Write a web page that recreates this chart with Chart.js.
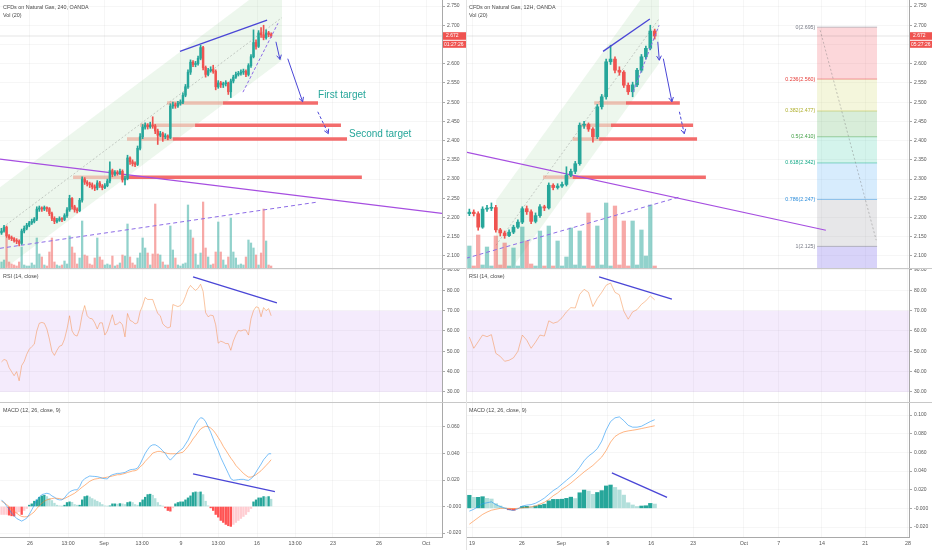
<!DOCTYPE html>
<html>
<head>
<meta charset="utf-8">
<script src="https://cdn.jsdelivr.net/npm/chart.js@4.4.1/dist/chart.umd.min.js"></script>
<style>
  html, body { margin: 0; padding: 0; background: #fff; }
  #wrap { position: relative; width: 932px; height: 550px; overflow: hidden; font-family: "Liberation Sans", Arial, sans-serif; }
  .pane { position: absolute; }
  .pane canvas { display: block; }
  .hline { position: absolute; left: 0; width: 932px; height: 1px; background: #c8c8c8; }
  .vline { position: absolute; top: 0; width: 1px; height: 550px; background: #e2e2e2; }
  .title { position: absolute; font-size: 5.4px; line-height: 6px; color: #4a4a4a; white-space: nowrap; }
</style>
</head>
<body>
<div id="wrap">
  <div class="pane" style="left:0;top:0;width:466px;height:268px"><canvas id="leftMain"></canvas></div>
  <div class="pane" style="left:0;top:269px;width:466px;height:133px"><canvas id="leftRsi"></canvas></div>
  <div class="pane" style="left:0;top:403px;width:466px;height:147px"><canvas id="leftMacd"></canvas></div>
  <div class="pane" style="left:466px;top:0;width:466px;height:268px"><canvas id="rightMain"></canvas></div>
  <div class="pane" style="left:466px;top:269px;width:466px;height:133px"><canvas id="rightRsi"></canvas></div>
  <div class="pane" style="left:466px;top:403px;width:466px;height:147px"><canvas id="rightMacd"></canvas></div>
  <div class="hline" style="top:268px"></div>
  <div class="hline" style="top:402px"></div>
  <div class="vline" style="left:466px"></div>

  <div class="title" style="left:3px;top:4px">CFDs on Natural Gas, 240, OANDA</div>
  <div class="title" style="left:3px;top:12px">Vol (20)</div>
  <div class="title" style="left:3px;top:273px">RSI (14, close)</div>
  <div class="title" style="left:3px;top:407px">MACD (12, 26, close, 9)</div>
  <div class="title" style="left:469px;top:4px">CFDs on Natural Gas, 12H, OANDA</div>
  <div class="title" style="left:469px;top:12px">Vol (20)</div>
  <div class="title" style="left:469px;top:273px">RSI (14, close)</div>
  <div class="title" style="left:469px;top:407px">MACD (12, 26, close, 9)</div>
</div>

<script>
// Gás natural — dois gráficos lado a lado (4H e 12H) com volume, RSI e MACD.

const UP = "#26a69a", DOWN = "#ef5350";
const UP_VOL = "rgba(38,166,154,0.5)", DOWN_VOL = "rgba(239,83,80,0.5)";
const TXT = "#555", AXIS = "#a9a9a9", GRID = "rgba(0,0,0,0.035)";
const BLUE = "#4a46d6", PURPLE = "#a64ee0", DASH_PURPLE = "#8c6be6";
const ZONE = "rgba(242,92,92,0.9)", ZONE_SOFT = "rgba(236,140,120,0.5)";
const TEAL = "#26a69a";
const RSI_COLOR = "rgba(245,140,70,0.5)";
const RSI_FILL = "rgba(150,60,230,0.1)";
const MACD_COLOR = "rgba(33,150,243,0.6)", SIGNAL_COLOR = "rgba(255,120,30,0.55)";

// ---- 4H (esquerda) ----
const leftFirstOpen = 2.160;
const leftClose = [
  2.165,2.175,2.152,2.148,2.145,2.140,2.138,2.133,2.165,2.172,
  2.180,2.186,2.190,2.196,2.222,2.225,2.222,2.226,2.223,2.210,
  2.198,2.190,2.193,2.197,2.195,2.205,2.220,2.250,2.228,2.220,
  2.218,2.245,2.300,2.292,2.288,2.285,2.280,2.277,2.290,2.282,
  2.278,2.283,2.295,2.322,2.312,2.318,2.315,2.320,2.298,2.302,
  2.355,2.345,2.340,2.338,2.380,2.410,2.435,2.440,2.436,2.440,
  2.438,2.425,2.414,2.418,2.410,2.412,2.408,2.490,2.493,2.490,
  2.497,2.500,2.518,2.540,2.578,2.604,2.598,2.600,2.614,2.642,
  2.590,2.572,2.582,2.585,2.580,2.540,2.550,2.545,2.548,2.550,
  2.527,2.555,2.565,2.572,2.575,2.578,2.580,2.572,2.595,2.618,
  2.655,2.645,2.680,2.675,2.668,2.680,2.676,2.672];
const leftHigh = [
  2.172,2.180,2.178,2.156,2.152,2.148,2.145,2.142,2.170,2.178,
  2.185,2.190,2.196,2.200,2.228,2.230,2.228,2.230,2.228,2.226,
  2.214,2.202,2.198,2.202,2.200,2.210,2.226,2.258,2.252,2.232,
  2.225,2.250,2.306,2.304,2.296,2.292,2.290,2.285,2.296,2.294,
  2.286,2.288,2.300,2.345,2.326,2.322,2.322,2.326,2.324,2.308,
  2.362,2.358,2.350,2.345,2.386,2.418,2.442,2.446,2.444,2.448,
  2.462,2.442,2.430,2.424,2.422,2.418,2.415,2.496,2.500,2.498,
  2.502,2.506,2.524,2.546,2.584,2.610,2.608,2.606,2.620,2.648,
  2.645,2.594,2.588,2.592,2.596,2.584,2.556,2.554,2.552,2.556,
  2.552,2.560,2.570,2.578,2.580,2.584,2.586,2.584,2.600,2.624,
  2.688,2.662,2.686,2.694,2.700,2.688,2.684,2.680];
const leftLow = [
  2.156,2.162,2.148,2.143,2.140,2.136,2.132,2.126,2.130,2.160,
  2.168,2.176,2.182,2.186,2.192,2.216,2.216,2.218,2.216,2.205,
  2.192,2.184,2.186,2.190,2.189,2.192,2.200,2.216,2.222,2.214,
  2.212,2.215,2.240,2.286,2.282,2.278,2.274,2.270,2.272,2.278,
  2.272,2.275,2.280,2.290,2.306,2.308,2.310,2.312,2.292,2.285,
  2.298,2.338,2.334,2.332,2.335,2.376,2.405,2.430,2.430,2.432,
  2.432,2.418,2.390,2.410,2.398,2.405,2.402,2.405,2.484,2.484,
  2.486,2.492,2.496,2.514,2.536,2.572,2.592,2.592,2.596,2.610,
  2.584,2.565,2.568,2.578,2.575,2.532,2.536,2.538,2.538,2.542,
  2.520,2.512,2.550,2.562,2.568,2.570,2.572,2.566,2.568,2.590,
  2.615,2.638,2.642,2.668,2.662,2.664,2.670,2.668];
const leftVolume = [
  6,8,30,6,4,3,2,6,21,3, 2,2,5,3,30,14,11,3,2,16,
  30,6,3,2,3,7,4,32,21,15, 4,10,47,13,12,4,3,10,30,11,
  8,3,4,3,12,2,3,5,13,12, 44,11,5,3,10,15,30,20,15,3,
  14,64,14,13,6,3,3,42,18,10, 3,2,4,5,63,38,30,14,3,15,
  66,20,11,3,4,16,46,16,8,3, 11,50,16,10,3,4,3,11,28,25,
  20,13,3,15,59,27,3,2];
const leftRsi = [
  44.8,46,45.5,42,40,38,40,35.5,43,45, 48.5,51,52.3,53.5,60,63.8,64.2,63.8,61,56,
  50,48,50.5,52.5,53,56,61,67.5,60,58, 57.5,61,68,72.5,67.5,66.2,66,64,61,64,
  64,58,60,64,68,63,63.5,64.5,63,57.1, 68.6,65.2,64.6,63.5,64,69.5,72.5,76.5,75.5,75.5,
  75.5,72,68.6,67.5,63.5,62.3,61.5,62,73,72.5, 72,72.5,74,77,80.5,82.4,81,80,81,83,
  79.5,69,67,67.8,67.5,63,54,55,54.5,53.8, 53.8,50.5,55,58,60.3,60,60.5,60.5,58,66,
  70,71.9,71.5,67,71.5,70,71,67.5];
const leftMacd = [
  0.005,0.003,0.0005,-0.002,-0.005,-0.007,-0.009,-0.010,-0.011,-0.010,
  -0.0088,-0.006,-0.0025,0.001,0.005,0.007,0.009,0.0095,0.010,0.0095,
  0.008,0.007,0.0055,0.005,0.005,0.0065,0.009,0.011,0.012,0.0126,
  0.0126,0.015,0.019,0.021,0.022,0.023,0.0228,0.0227,0.0225,0.022,
  0.0213,0.021,0.0208,0.023,0.024,0.0245,0.025,0.025,0.0254,0.0257,
  0.0268,0.0277,0.028,0.0282,0.029,0.032,0.036,0.040,0.043,0.0455,
  0.0465,0.0466,0.0455,0.044,0.042,0.040,0.037,0.035,0.037,0.039,
  0.041,0.0425,0.044,0.047,0.050,0.054,0.058,0.062,0.065,0.067,
  0.0665,0.064,0.060,0.056,0.051,0.046,0.042,0.037,0.033,0.029,
  0.025,0.021,0.0198,0.020,0.0203,0.0205,0.0205,0.020,0.0197,0.021,
  0.0227,0.026,0.029,0.032,0.0353,0.0375,0.0398,0.0398];
const leftSignal = [
  0.004,0.003,0.0015,0,-0.002,-0.0035,-0.005,-0.0065,-0.0075,-0.0078,
  -0.0077,-0.007,-0.0055,-0.004,-0.0015,0.0005,0.0025,0.004,0.005,0.0055,
  0.006,0.0063,0.0062,0.006,0.0055,0.006,0.007,0.008,0.009,0.010,
  0.0115,0.013,0.0146,0.016,0.0175,0.019,0.020,0.0207,0.021,0.0214,
  0.0216,0.0218,0.0222,0.0225,0.023,0.0235,0.024,0.024,0.0245,0.025,
  0.0257,0.0262,0.0268,0.027,0.0278,0.030,0.0315,0.034,0.036,0.038,
  0.0403,0.041,0.0416,0.0416,0.041,0.0405,0.040,0.0398,0.0398,0.0398,
  0.040,0.0405,0.041,0.043,0.0454,0.048,0.051,0.0534,0.056,0.0585,
  0.0597,0.0605,0.0603,0.0592,0.0575,0.055,0.052,0.049,0.0454,0.0425,
  0.0395,0.0365,0.034,0.031,0.029,0.027,0.025,0.0235,0.0222,0.0222,
  0.023,0.024,0.0255,0.027,0.029,0.031,0.033,0.0353];
const leftHist = [
  -0.006,-0.006,-0.006,-0.0065,-0.007,-0.0072,-0.005,-0.004,-0.006,-0.003,
  -0.0015,0.001,0.002,0.004,0.005,0.007,0.008,0.0085,0.0075,0.006,
  0.0045,0.0025,0.001,0.0005,0.0003,0.001,0.003,0.0035,0.0032,0.0015,
  0.001,0.001,0.005,0.0075,0.008,0.0072,0.006,0.005,0.004,0.003,
  0.0015,0.0005,0.0003,0.0005,0.002,0.002,0.0018,0.0022,0.002,0.0015,
  0.003,0.0035,0.003,0.0015,0.001,0.003,0.005,0.007,0.009,0.0093,
  0.0085,0.006,0.003,0.001,0.0003,-0.001,-0.003,-0.0035,-0.001,0.002,
  0.003,0.0035,0.0035,0.005,0.0065,0.008,0.0105,0.011,0.0108,0.011,
  0.009,0.004,0.0005,-0.001,-0.003,-0.006,-0.008,-0.0105,-0.012,-0.0135,
  -0.0145,-0.015,-0.0135,-0.012,-0.0105,-0.009,-0.0075,-0.006,-0.004,-0.0015,
  0.0035,0.005,0.0065,0.0065,0.0075,0.0072,0.0075,0.0055];
const leftTimePos = [11.3, 26.4, 40.7, 55.8, 71.2, 86, 101.4, 116.5, 131.5, 149.8, 168.5];
const leftTimeLabels = ["26", "13:00", "Sep", "13:00", "9", "13:00", "16", "13:00", "23", "26", "Oct"];

// desenhos do gráfico 4H (índice da vela, preço)
const leftChanUpper = [[-0.6, 2.279], [111.3, 2.830]];
const leftChanLower = [[-0.6, 2.058], [111.3, 2.609]];
const leftChanMid = [[-0.6, 2.169], [111.3, 2.720]];
const leftTrend = [[70.8, 2.632], [105.4, 2.713]];
const leftWedge = [[95.8, 2.526], [109.7, 2.705]];
const leftArrowShort = [[108.9, 2.657], [110.5, 2.611]];
const leftArrowLong = [[113.6, 2.613], [119.5, 2.501]];
const leftArrowDash = [[125.5, 2.475], [129.7, 2.418]];
const leftPurple = [[-0.6, 2.352], [174.8, 2.211]];
const leftSupport = [[-0.6, 2.120], [125.2, 2.240]];
const leftZonePrice = [2.498, 2.440, 2.404, 2.305];
const leftZoneFrom = [65.7, 55.0, 49.8, 28.4];
const leftZoneSplit = [87.9, 76.8, 68.0, 49.8];
const leftZoneTo = [125.6, 134.7, 137.1, 143.0];
const leftRsiTrend = [[76, 86.6], [109.3, 73.8]];
const leftMacdTrend = [[76, 0.0247], [108.5, 0.0113]];
const leftNotes = [
  { text: "First target", x: 125.6, y: 2.518, color: TEAL, size: 10 },
  { text: "Second target", x: 137.9, y: 2.417, color: TEAL, size: 10 },
];

// ---- 12H (direita) ----
const rightFirstOpen = 2.210;
const rightClose = [
  2.214,2.210,2.175,2.222,2.224,2.226,2.168,2.160,2.153,2.162,
  2.175,2.188,2.223,2.215,2.190,2.205,2.228,2.225,2.284,2.278,
  2.282,2.286,2.310,2.320,2.340,2.440,2.442,2.430,2.410,2.488,
  2.514,2.605,2.612,2.583,2.578,2.544,2.527,2.545,2.583,2.618,
  2.640,2.685,2.672];
const rightHigh = [
  2.222,2.220,2.215,2.228,2.232,2.238,2.232,2.172,2.165,2.168,
  2.180,2.194,2.228,2.230,2.220,2.212,2.234,2.232,2.290,2.288,
  2.288,2.292,2.332,2.326,2.346,2.446,2.450,2.446,2.434,2.494,
  2.520,2.612,2.648,2.618,2.592,2.582,2.550,2.552,2.588,2.624,
  2.646,2.700,2.690];
const rightLow = [
  2.205,2.204,2.167,2.172,2.216,2.218,2.162,2.152,2.146,2.150,
  2.158,2.172,2.184,2.208,2.184,2.186,2.200,2.218,2.222,2.272,
  2.274,2.278,2.282,2.306,2.314,2.336,2.432,2.424,2.396,2.405,
  2.482,2.508,2.598,2.576,2.570,2.538,2.520,2.514,2.540,2.578,
  2.612,2.636,2.664];
const rightVolume = [
  22,2,33,3,21,2,32,3,25,2, 20,2,41,27,4,2,37,2,42,2,
  27,2,11,40,3,37,2,55,2,42, 3,65,2,62,3,47,2,47,3,38,
  12,63,2];
const rightRsi = [
  57,51.5,54.7,58,57.2,58.2,49,47.5,45.1,45.6, 46.8,50,58,55.5,51.5,54.5,58,57.5,65,63.8,
  64.5,66.5,69.4,71.5,71.3,78,80.5,79,72,76, 79,82.5,83.6,79,77.8,69.8,65.8,69.4,70.5,73.1,
  74.8,77.3,75.3];
const rightMacd = [
  -0.003,-0.001,0.002,0.005,0.006,0.007,0.004,0.002,0.0003,-0.0015,
  -0.0023,-0.0005,0.0025,0.0035,0.004,0.0055,0.008,0.011,0.015,0.019,
  0.022,0.026,0.030,0.034,0.038,0.044,0.051,0.056,0.0595,0.064,
  0.072,0.084,0.093,0.097,0.098,0.094,0.089,0.087,0.087,0.088,
  0.0905,0.093,0.095];
const rightSignal = [
  -0.017,-0.0135,-0.010,-0.0065,-0.004,-0.002,-0.001,0,0,0,
  -0.0003,0,0.0005,0.001,0.0015,0.0025,0.0045,0.0065,0.0095,0.0135,
  0.0165,0.0205,0.0235,0.027,0.031,0.035,0.039,0.0425,0.046,0.0505,
  0.055,0.062,0.071,0.077,0.080,0.082,0.083,0.0837,0.0845,0.0855,
  0.0865,0.0875,0.0885];
const rightHist = [
  0.014,0.0118,0.0118,0.0125,0.0107,0.010,0.005,0.0025,0.0003,-0.0015,
  -0.002,-0.0005,0.002,0.0022,0.0018,0.0025,0.0035,0.0045,0.008,0.0096,
  0.0096,0.0098,0.0107,0.012,0.0105,0.0167,0.0196,0.0185,0.015,0.017,
  0.019,0.024,0.025,0.0224,0.0196,0.0142,0.006,0.0036,0.002,0.0025,
  0.0028,0.0053,0.0046];
const rightTimePos = [0.6, 11.9, 20.8, 31.4, 41.2, 50.7, 62.2, 70.1, 79.9, 89.7, 99.4];
const rightTimeLabels = ["19", "26", "Sep", "9", "16", "23", "Oct", "7", "14", "21", "28"];

const rightChanUpper = [[6.04, 2.245], [43.0, 2.833]];
const rightChanLower = [[6.04, 2.011], [43.0, 2.601]];
const rightChanMid = [[6.04, 2.128], [43.0, 2.717]];
const rightTrend = [[30.3, 2.632], [40.9, 2.716]];
const rightWedge = [[37.1, 2.526], [43.0, 2.700]];
const rightArrowShort = [[42.7, 2.657], [43.05, 2.609]];
const rightArrowLong = [[43.96, 2.613], [45.9, 2.501]];
const rightArrowDash = [[47.6, 2.475], [48.7, 2.418]];
const rightPurple = [[-0.76, 2.370], [80.8, 2.167]];
const rightSupport = [[-0.76, 2.094], [47.5, 2.253]];
const rightZonePrice = [2.498, 2.440, 2.404, 2.305];
const rightZoneFrom = [28.3, 25.2, 23.4, 16.7];
const rightZoneSplit = [35.5, 32.1, 29.4, 23.4];
const rightZoneTo = [47.7, 50.7, 51.6, 53.6];
const rightRsiTrend = [[29.4, 86.6], [45.9, 75.7]];
const rightMacdTrend = [[32.3, 0.0381], [44.8, 0.0117]];

// retração de Fibonacci (12H)
const fibLevels = ["0", "0.236", "0.382", "0.5", "0.618", "0.786", "1"];
const fibPrices = [2.695, 2.560, 2.477, 2.410, 2.342, 2.247, 2.125];
const fibSpan = [78.8, 92.4];
const fibDiagonal = [[79.5, 2.687], [92.2, 2.141]];
const fibText = ["#787b86", "#e53935", "#b0b030", "#43a047", "#13a987", "#2f8fdc", "#787b86"];
const fibFill = ["rgba(242,54,69,0.2)", "rgba(200,210,80,0.2)", "rgba(76,175,80,0.22)", "rgba(40,200,160,0.2)",
  "rgba(33,150,243,0.18)", "rgba(120,123,134,0.18)", "rgba(100,80,230,0.25)"];

// ---- eixos ----
const priceTicks = [2.10, 2.15, 2.20, 2.25, 2.30, 2.35, 2.40, 2.45, 2.50, 2.55, 2.60, 2.65, 2.70, 2.75];
const rsiTicks = [30, 40, 50, 60, 70, 80, 90];
const leftMacdTicks = [-0.02, 0, 0.02, 0.04, 0.06];
const rightMacdTicks = [-0.02, 0, 0.02, 0.04, 0.06, 0.08, 0.10];
const PRICE_RANGE = [2.0688, 2.7656];
const RSI_RANGE = [25.07, 90.49];
const RSI_BAND = [30, 70];
const VOL_MAX = 268;

Chart.defaults.font.family = '"Liberation Sans", Arial, sans-serif';
Chart.defaults.color = TXT;

function pts(arr) { return arr.map((p) => ({ x: p[0], y: p[1] })); }
function series(vals) { return vals.map((v, i) => ({ x: i, y: v })); }
function line(arr, color, width, dash, order, extra) {
  return Object.assign({
    type: "line", data: pts(arr), borderColor: color, borderWidth: width,
    borderDash: dash || [], pointRadius: 0, fill: false, tension: 0, order,
  }, extra || {});
}

function xAxis(range, pos, labels, show) {
  return {
    type: "linear", min: range[0], max: range[1], offset: false,
    afterBuildTicks: (s) => { s.ticks = pos.map((v) => ({ value: v })); },
    afterFit: (s) => { s.height = show ? 13 : 0; s.paddingLeft = 0; s.paddingRight = 0; },
    ticks: { display: show, autoSkip: false, maxRotation: 0, padding: 3, color: TXT, font: { size: 5.3 },
      callback: (v, i) => labels[i] },
    grid: { color: GRID, drawTicks: false, offset: false },
    border: { display: show, color: AXIS },
  };
}
function yAxis(range, ticks, fmt, width) {
  return {
    position: "right", min: range[0], max: range[1], beginAtZero: false,
    afterBuildTicks: (s) => { s.ticks = ticks.map((v) => ({ value: v })); },
    afterFit: (s) => { s.width = width; s.paddingTop = 0; s.paddingBottom = 0; },
    ticks: { autoSkip: false, padding: 2, color: TXT, font: { size: 5 }, callback: fmt },
    grid: { color: GRID, tickColor: AXIS, tickLength: 3 },
    border: { color: AXIS },
  };
}
function opts(scales) {
  return {
    responsive: true, maintainAspectRatio: false, animation: false, events: [],
    layout: { padding: 0 },
    plugins: { legend: { display: false }, tooltip: { enabled: false } },
    scales,
  };
}

// setas, textos e etiqueta do último preço
function overlay(notes, tag) {
  return {
    id: "overlay",
    afterDatasetsDraw(chart) {
      const { ctx, scales: { x, y } } = chart;
      ctx.save();
      chart.data.datasets.forEach((ds, di) => {
        if (!ds.arrow) return;
        const el = chart.getDatasetMeta(di).data;
        const a = el[el.length - 2], b = el[el.length - 1];
        const ang = Math.atan2(b.y - a.y, b.x - a.x);
        ctx.strokeStyle = ds.borderColor;
        ctx.lineWidth = ds.borderWidth;
        ctx.setLineDash([]);
        ctx.beginPath();
        ctx.moveTo(b.x - 5 * Math.cos(ang - 0.5), b.y - 5 * Math.sin(ang - 0.5));
        ctx.lineTo(b.x, b.y);
        ctx.lineTo(b.x - 5 * Math.cos(ang + 0.5), b.y - 5 * Math.sin(ang + 0.5));
        ctx.stroke();
      });
      (notes || []).forEach((n) => {
        ctx.font = n.size + 'px "Liberation Sans", Arial, sans-serif';
        ctx.fillStyle = n.color;
        ctx.textAlign = n.align || "left";
        ctx.textBaseline = "middle";
        ctx.fillText(n.text, x.getPixelForValue(n.x), y.getPixelForValue(n.y));
      });
      ctx.restore();
    },
    afterDraw(chart) {
      if (!tag) return;
      const { ctx } = chart;
      const yy = chart.scales.y.getPixelForValue(tag.value);
      const x0 = chart.chartArea.right + 1, w = chart.width - x0;
      ctx.save();
      ctx.fillStyle = tag.color;
      ctx.fillRect(x0, yy - 3.8, w, 7.6);
      ctx.fillRect(x0, yy + 4.8, w, 7);
      ctx.fillStyle = "#fff";
      ctx.font = '5px "Liberation Sans", Arial, sans-serif';
      ctx.textAlign = "left";
      ctx.textBaseline = "middle";
      ctx.fillText(tag.value.toFixed(3), x0 + 3, yy);
      ctx.fillText(tag.time, x0 + 1, yy + 8.4);
      ctx.restore();
    },
  };
}

function buildSide(p) {
  const n = p.close.length;
  const opens = p.close.map((c, i) => (i ? p.close[i - 1] : p.firstOpen));
  const up = p.close.map((c, i) => c >= opens[i]);
  const candleCol = up.map((u) => (u ? UP : DOWN));
  const last = p.close[n - 1];
  const xr = p.xRange;

  // painel de preço
  const main = [
    line(p.chanUpper, "rgba(0,0,0,0)", 0, null, 30, { fill: "+1", backgroundColor: "rgba(76,175,80,0.1)" }),
    line(p.chanLower, "rgba(0,0,0,0)", 0, null, 30),
    line(p.chanMid, "rgba(100,100,100,0.45)", 0.7, [2, 2], 29),
  ];
  const fibNotes = [];
  if (p.fib) {
    fibPrices.forEach((price, k) => {
      main.push(line([[fibSpan[0], price], [fibSpan[1], price]], fibText[k] + "99", 0.8, null, 28, {
        fill: k < fibPrices.length - 1 ? "+1" : "start", backgroundColor: fibFill[k],
      }));
      fibNotes.push({ text: fibLevels[k] + "(" + price.toFixed(3) + ")", x: fibSpan[0] - 0.4, y: price,
        color: fibText[k], size: 5.3, align: "right" });
    });
    main.push(line(fibDiagonal, "rgba(120,120,120,0.6)", 0.7, [2, 2], 27));
  }
  main.push({
    type: "bar", data: series(p.volume), yAxisID: "yv",
    backgroundColor: up.map((u) => (u ? UP_VOL : DOWN_VOL)),
    barThickness: p.volW, grouped: false, order: 26,
  });
  main.push(line([[xr[0], last], [xr[1], last]], "rgba(0,0,0,0.1)", 1, null, 24));
  p.zonePrice.forEach((price, k) => {
    main.push(line([[p.zoneFrom[k], price], [p.zoneSplit[k], price]], ZONE_SOFT, 3.5, null, 22));
    main.push(line([[p.zoneSplit[k], price], [p.zoneTo[k], price]], ZONE, 3.5, null, 22));
  });
  main.push(line(p.purple, PURPLE, 1.2, null, 20));
  main.push(line(p.support, DASH_PURPLE, 1, [4, 3], 20));
  main.push({
    type: "bar", data: p.close.map((c, i) => ({ x: i, y: [p.low[i], p.high[i]] })),
    backgroundColor: candleCol, barThickness: 1, minBarLength: 1, grouped: false, order: 4,
  });
  main.push({
    type: "bar", data: p.close.map((c, i) => ({ x: i, y: [opens[i], c] })),
    backgroundColor: candleCol, barThickness: p.bodyW, minBarLength: 1, grouped: false, order: 3,
  });
  main.push(line(p.trend, BLUE, 1.3, null, 1));
  main.push(line(p.wedge, DASH_PURPLE, 1, [3, 2], 1));
  main.push(line(p.arrowShort, BLUE, 1, null, 1, { arrow: true }));
  main.push(line(p.arrowLong, BLUE, 1, null, 1, { arrow: true }));
  main.push(line(p.arrowDash, BLUE, 1, [3, 2], 1, { arrow: true }));

  new Chart(document.getElementById(p.id + "Main"), {
    type: "bar",
    data: { datasets: main },
    options: opts({
      x: xAxis(xr, p.timePos, p.timeLabels, false),
      y: yAxis(PRICE_RANGE, priceTicks, (v) => v.toFixed(3), p.axisW),
      yv: { display: false, min: 0, max: VOL_MAX },
    }),
    plugins: [overlay((p.notes || []).concat(fibNotes), { value: last, color: candleCol[n - 1], time: p.timer })],
  });

  // RSI
  new Chart(document.getElementById(p.id + "Rsi"), {
    type: "line",
    data: {
      datasets: [
        line([[xr[0], RSI_BAND[1]], [xr[1], RSI_BAND[1]]], "rgba(0,0,0,0)", 0, null, 10,
          { fill: "+1", backgroundColor: RSI_FILL }),
        line([[xr[0], RSI_BAND[0]], [xr[1], RSI_BAND[0]]], "rgba(0,0,0,0)", 0, null, 10),
        { type: "line", data: series(p.rsi), borderColor: RSI_COLOR, borderWidth: 1, pointRadius: 0, tension: 0, order: 5 },
        line(p.rsiTrend, BLUE, 1.3, null, 1),
      ],
    },
    options: opts({
      x: xAxis(xr, p.timePos, p.timeLabels, false),
      y: yAxis(RSI_RANGE, rsiTicks, (v) => v.toFixed(2), p.axisW),
    }),
  });

  // MACD
  const histCol = p.hist.map((h, i) => {
    const prev = i ? p.hist[i - 1] : h;
    if (h >= 0) return h >= prev ? "#26a69a" : "#b2dfdb";
    return h < prev ? "#ff5252" : "#ffcdd2";
  });
  new Chart(document.getElementById(p.id + "Macd"), {
    type: "bar",
    data: {
      datasets: [
        { type: "bar", data: series(p.hist), backgroundColor: histCol, barThickness: p.histW, grouped: false, order: 6 },
        { type: "line", data: series(p.macd), borderColor: MACD_COLOR, borderWidth: 1, pointRadius: 0, tension: 0, order: 3 },
        { type: "line", data: series(p.signal), borderColor: SIGNAL_COLOR, borderWidth: 1, pointRadius: 0, tension: 0, order: 4 },
        line(p.macdTrend, BLUE, 1.3, null, 1),
      ],
    },
    options: opts({
      x: xAxis(xr, p.timePos, p.timeLabels, true),
      y: yAxis(p.macdRange, p.macdTicks, (v) => (Math.abs(v) < 1e-9 ? "-0.000" : v.toFixed(3)), p.axisW),
    }),
  });
}

buildSide({
  id: "left", xRange: [-0.6, 174.8], axisW: 24, bodyW: 1.8, volW: 1.6, histW: 1.7, timer: "01:27:26",
  firstOpen: leftFirstOpen, close: leftClose, high: leftHigh, low: leftLow, volume: leftVolume,
  rsi: leftRsi, macd: leftMacd, signal: leftSignal, hist: leftHist,
  timePos: leftTimePos, timeLabels: leftTimeLabels,
  chanUpper: leftChanUpper, chanLower: leftChanLower, chanMid: leftChanMid,
  trend: leftTrend, wedge: leftWedge, arrowShort: leftArrowShort, arrowLong: leftArrowLong, arrowDash: leftArrowDash,
  purple: leftPurple, support: leftSupport,
  zonePrice: leftZonePrice, zoneFrom: leftZoneFrom, zoneSplit: leftZoneSplit, zoneTo: leftZoneTo,
  rsiTrend: leftRsiTrend, macdTrend: leftMacdTrend, notes: leftNotes,
  macdRange: [-0.0230, 0.0781], macdTicks: leftMacdTicks, fib: false,
});

buildSide({
  id: "right", xRange: [-0.76, 99.63], axisW: 23, bodyW: 3, volW: 3.6, histW: 3.6, timer: "05:27:26",
  firstOpen: rightFirstOpen, close: rightClose, high: rightHigh, low: rightLow, volume: rightVolume,
  rsi: rightRsi, macd: rightMacd, signal: rightSignal, hist: rightHist,
  timePos: rightTimePos, timeLabels: rightTimeLabels,
  chanUpper: rightChanUpper, chanLower: rightChanLower, chanMid: rightChanMid,
  trend: rightTrend, wedge: rightWedge, arrowShort: rightArrowShort, arrowLong: rightArrowLong, arrowDash: rightArrowDash,
  purple: rightPurple, support: rightSupport,
  zonePrice: rightZonePrice, zoneFrom: rightZoneFrom, zoneSplit: rightZoneSplit, zoneTo: rightZoneTo,
  rsiTrend: rightRsiTrend, macdTrend: rightMacdTrend, notes: [],
  macdRange: [-0.0307, 0.1129], macdTicks: rightMacdTicks, fib: true,
});
</script>
</body>
</html>
